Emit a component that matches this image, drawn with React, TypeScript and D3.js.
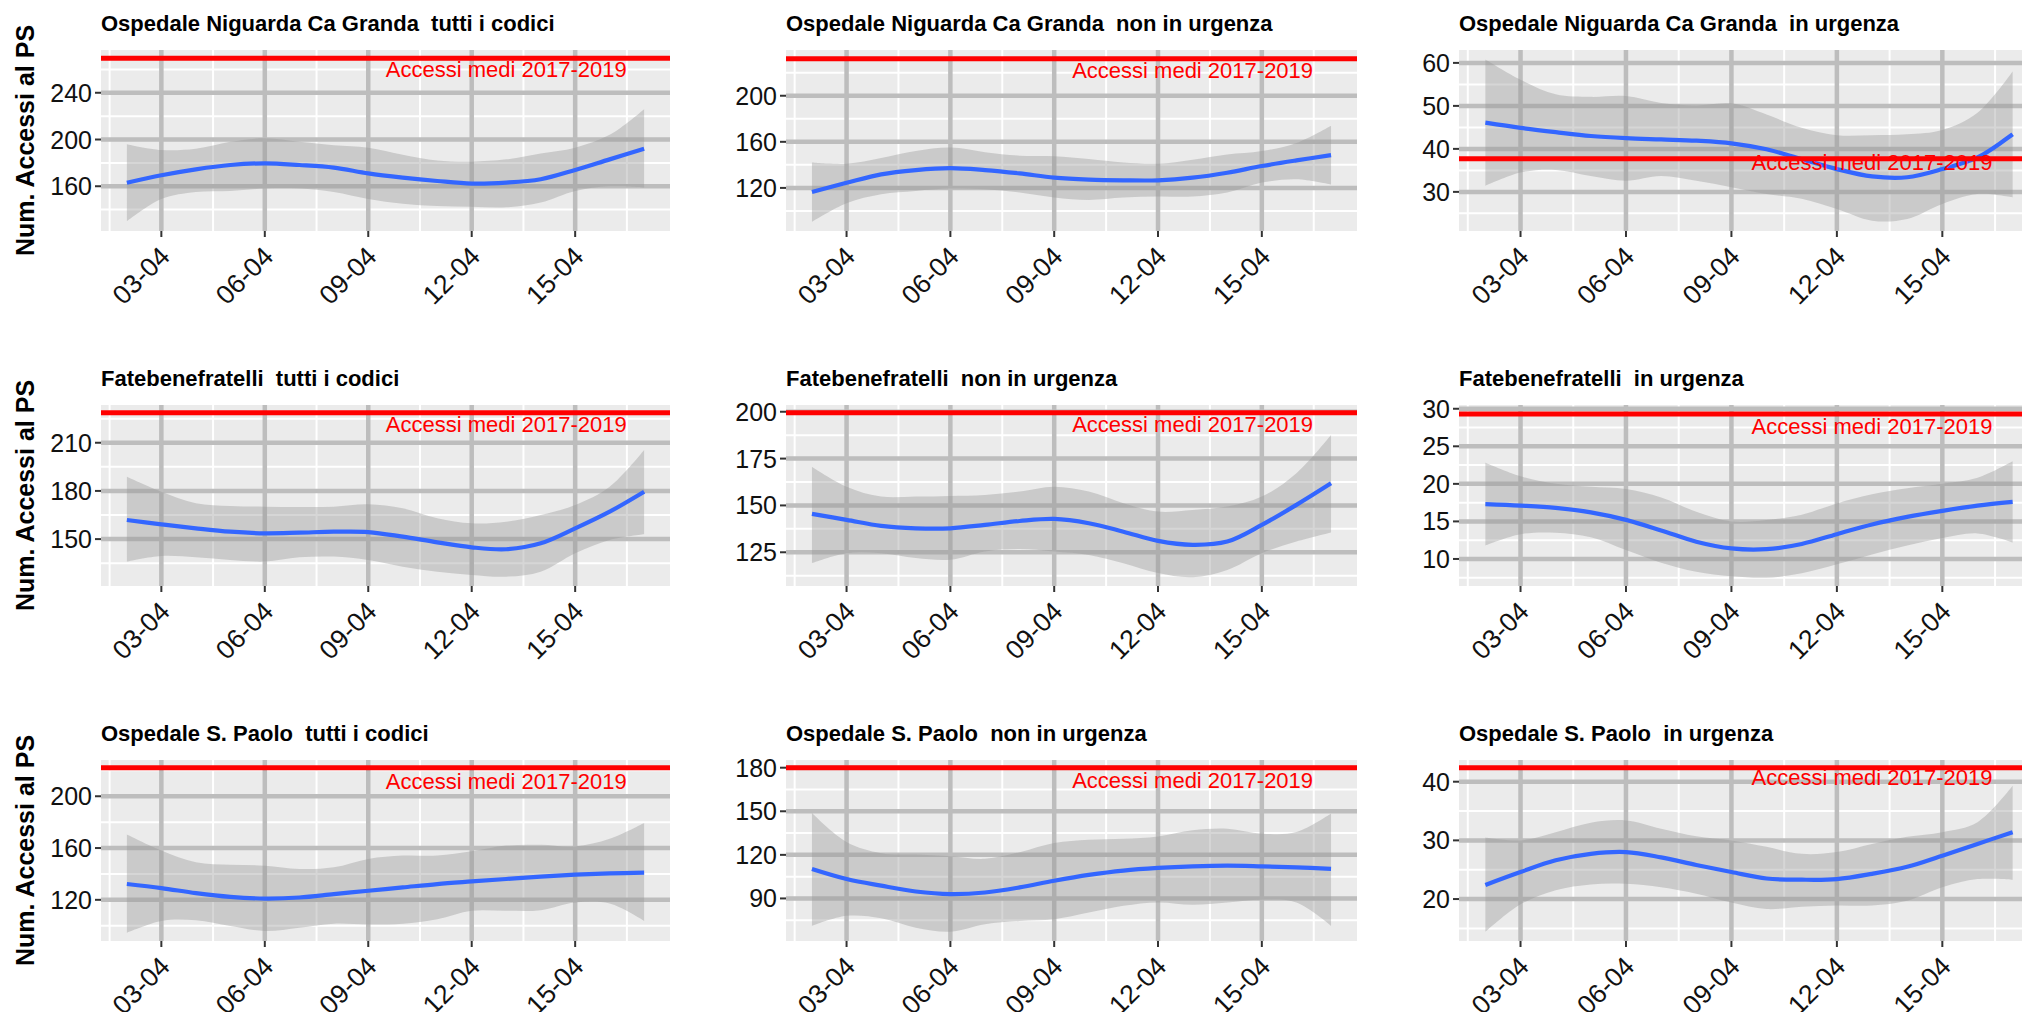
import React from "react";
import * as d3 from "d3";

// ---------- DATA ----------
const dayLabels = ["02-04","03-04","04-04","05-04","06-04","07-04","08-04","09-04","10-04","11-04","12-04","13-04","14-04","15-04","16-04","17-04"];
const xTickLabels = ["03-04","06-04","09-04","12-04","15-04"];
const refLabelDay = "13-04";
const refLabelText = "Accessi medi 2017-2019";
const yAxisTitle = "Num. Accessi al PS";

const titles = [
  "Ospedale Niguarda Ca Granda  tutti i codici",
  "Ospedale Niguarda Ca Granda  non in urgenza",
  "Ospedale Niguarda Ca Granda  in urgenza",
  "Fatebenefratelli  tutti i codici",
  "Fatebenefratelli  non in urgenza",
  "Fatebenefratelli  in urgenza",
  "Ospedale S. Paolo  tutti i codici",
  "Ospedale S. Paolo  non in urgenza",
  "Ospedale S. Paolo  in urgenza",
];

// Niguarda - tutti i codici
const niguardaTuttiFit = [163,169.4,174.5,178.2,179.6,178.2,176,171,167.4,164.5,162.3,163.1,166,173.9,183,192];
const niguardaTuttiLow = [130,149,155,156,158,158,155,149,145,143,142.5,142,146,156,160,159];
const niguardaTuttiHigh = [196,191,192,198,201,198,195,193,187,182,181,183,188,193,204,226];
// Niguarda - non in urgenza
const niguardaNonFit = [116.5,124.4,131.8,135.5,137.2,135.5,132.6,128.9,127.2,126.6,126.6,128.9,133.2,139,143.9,148.4];
const niguardaNonLow = [90.6,106.7,114.5,117.4,119.4,118.8,116,111.7,109.6,111.7,112.5,112.5,116,124.6,127.5,123];
const niguardaNonHigh = [142,141,146,152,155,151,148,147.5,145,142,141,144.5,149,152,159,174];
// Niguarda - in urgenza
const niguardaUrgFit = [46.1,44.9,43.9,43,42.5,42.2,41.9,41.3,39.9,37.6,35.3,33.6,33.4,35.3,38,43.4];
const niguardaUrgLow = [31.4,34.5,35.1,33.7,32.6,33.7,32.6,31.1,29.5,28.4,26,23.3,23.7,27.2,29.5,28.7];
const niguardaUrgHigh = [60.8,56.1,52.7,52.1,52.3,50.7,50.1,50.6,48,44.9,43.2,43.2,43.4,44.4,48.4,58];
// Fatebenefratelli - tutti i codici
const fateTuttiFit = [161.9,159.2,156.7,154.6,153.6,154,154.6,154.4,151.5,148,144.9,143.7,147.4,156.7,167.1,179.5];
const fateTuttiLow = [136,139.5,138.7,137,136,138.7,139.1,137,132.8,129.7,127.7,126.6,129.7,141.2,149.5,153];
const fateTuttiHigh = [188.8,179.5,172.3,170.6,170.2,170,170.2,171.7,169.2,163,159.8,160.8,165,171.2,182.6,205.5];
// Fatebenefratelli - non in urgenza
const fateNonFit = [145.5,142.3,139.1,137.8,137.8,139.6,141.7,142.8,140.5,136,131.1,129,130.7,139.6,150.3,161.8];
const fateNonLow = [119.2,124.5,124.5,121.9,121,125.4,126.7,125.4,123.6,119.2,113.9,111.7,115.6,124.5,130.7,135.5];
const fateNonHigh = [170.7,160,154.7,154.7,155.1,155.6,157.4,160,157.4,151.2,146.7,147.6,149.4,154.7,167.2,187.6];
// Fatebenefratelli - in urgenza
const fateUrgFit = [17.3,17.1,16.8,16.2,15.2,13.8,12.3,11.4,11.3,12,13.3,14.6,15.6,16.4,17.1,17.6];
const fateUrgLow = [11.8,13.3,13.5,12.9,11.2,9.5,8.3,7.7,7.5,8.1,9.3,10.6,11.8,12.8,13.4,12.2];
const fateUrgHigh = [22.8,21,20,19.6,19.3,18.2,16.3,15,15.2,15.9,17.4,18.6,19.4,20,20.8,23];
// S. Paolo - tutti i codici
const paoloTuttiFit = [132.2,129.1,125.2,122.3,121,121.8,124.4,127,129.6,132.2,134.2,136.1,137.9,139.4,140.4,141];
const paoloTuttiLow = [94.6,103.7,104.2,99.8,95.9,98.5,101.6,101,101.6,105,111.5,111.5,112,117.9,117.1,103.7];
const paoloTuttiHigh = [170.5,158.1,149,147,146.4,143.8,145.1,151.6,154.2,154.2,157.5,161.9,162.5,161.2,167.1,179.3];
// S. Paolo - non in urgenza
const paoloNonFit = [110.3,103.4,98.8,94.8,93,94.1,97.6,102.2,106.2,109.2,111,112.1,112.6,112.1,111.4,110.3];
const paoloNonLow = [71.1,78,76.4,69.9,67.1,72.2,74.5,75.7,80.3,84.9,87.2,85.6,87.2,89.1,87.2,71.1];
const paoloNonHigh = [148.8,128.8,121.1,120.2,119.1,117.3,121.8,128.1,130.4,131.1,132.7,136.9,138,134.6,135.7,148.4];
// S. Paolo - in urgenza
const paoloUrgFit = [22.4,24.6,26.6,27.7,28,27.1,25.8,24.6,23.5,23.3,23.4,24.3,25.5,27.4,29.4,31.4];
const paoloUrgLow = [14.4,19.1,21.5,22.5,22.6,22,20.9,19.4,18.3,18.7,18.9,18.9,19.7,22,23.4,23.3];
const paoloUrgHigh = [30.5,30,31.4,33,33.4,32,30.7,30,28.9,27.7,28,29.4,30.6,31.4,33.1,39.3];

const fits = [niguardaTuttiFit, niguardaNonFit, niguardaUrgFit, fateTuttiFit, fateNonFit, fateUrgFit, paoloTuttiFit, paoloNonFit, paoloUrgFit];
const lows = [niguardaTuttiLow, niguardaNonLow, niguardaUrgLow, fateTuttiLow, fateNonLow, fateUrgLow, paoloTuttiLow, paoloNonLow, paoloUrgLow];
const highs = [niguardaTuttiHigh, niguardaNonHigh, niguardaUrgHigh, fateTuttiHigh, fateNonHigh, fateUrgHigh, paoloTuttiHigh, paoloNonHigh, paoloUrgHigh];

const refMeans = [269.5, 232, 37.7, 228.7, 199.5, 29.3, 222, 180, 42.4];
const refLabelY = [259.6, 222.2, 36.76, 221.3, 193.3, 27.7, 211.5, 171, 40.67];
const yDomains = [[121.7,276.6],[82.6,239.7],[20.9,63],[120.8,233.5],[107,203.6],[6.4,30.5],[88.2,228],[60.7,185.3],[12.85,43.7]];
const yTicks = [[160,200,240],[120,160,200],[30,40,50,60],[150,180,210],[125,150,175,200],[10,15,20,25,30],[120,160,200],[90,120,150,180],[20,30,40]];

// ---------- LAYOUT ----------
const W = 2022, H = 1012;
const colX = [[101, 670], [786, 1357], [1459, 2039]];
const rowTop = [50, 405, 760];
const panelH = 181;
const FONT = "'Liberation Sans', Arial, Helvetica, sans-serif";
const parseDay = d3.timeParse("%d-%m-%Y");
const toDate = (s: string) => parseDay(s + "-2020") as Date;
const DAY = 86400000;

function Panel({ i }: { i: number }) {
  const r = Math.floor(i / 3), c = i % 3;
  const [x0, x1] = colX[c];
  const y0 = rowTop[r], y1 = y0 + panelH;
  const dates = dayLabels.map(toDate);
  const ext = d3.extent(dates) as [Date, Date];
  const span = +ext[1] - +ext[0];
  const x = d3.scaleTime().domain([new Date(+ext[0] - span * 0.05), new Date(+ext[1] + span * 0.05)]).range([x0, x1]);
  const y = d3.scaleLinear().domain(yDomains[i]).range([y1, y0]);
  const ticks = yTicks[i];
  const step = ticks[1] - ticks[0];
  const dom = yDomains[i];
  const minorY: number[] = [];
  for (let v = ticks[0] - step / 2; v <= dom[1]; v += step) if (v >= dom[0]) minorY.push(v);
  const xMajor = xTickLabels.map(toDate);
  const xMinor: Date[] = [];
  for (let t = +xMajor[0] - 1.5 * DAY; t <= +x.domain()[1]; t += 3 * DAY) if (t >= +x.domain()[0]) xMinor.push(new Date(t));

  const rows = dates.map((d, k) => ({ d, fit: fits[i][k], lo: lows[i][k], hi: highs[i][k] }));
  const area = d3.area<any>().x(p => x(p.d)).y0(p => y(p.lo)).y1(p => y(p.hi)).curve(d3.curveCatmullRom.alpha(0.5));
  const line = d3.line<any>().x(p => x(p.d)).y(p => y(p.fit)).curve(d3.curveCatmullRom.alpha(0.5));
  const clipId = `clip${i}`;

  return (
    <g>
      <defs>
        <clipPath id={clipId}><rect x={x0} y={y0} width={x1 - x0} height={panelH} /></clipPath>
      </defs>
      <text x={x0} y={y0 - 19} xmlSpace="preserve" style={{ whiteSpace: "pre" }} fontFamily={FONT} fontWeight="bold" fontSize={22} fill="#000">{titles[i]}</text>
      <rect x={x0} y={y0} width={x1 - x0} height={panelH} fill="#EBEBEB" />
      <g clipPath={`url(#${clipId})`}>
        {minorY.map((v, k) => <line key={"my" + k} x1={x0} x2={x1} y1={y(v)} y2={y(v)} stroke="#FFFFFF" strokeWidth={2} />)}
        {xMinor.map((d, k) => <line key={"mx" + k} x1={x(d)} x2={x(d)} y1={y0} y2={y1} stroke="#FFFFFF" strokeWidth={2} />)}
        {ticks.map((v, k) => <line key={"gy" + k} x1={x0} x2={x1} y1={y(v)} y2={y(v)} stroke="#BDBDBD" strokeWidth={4.5} />)}
        {xMajor.map((d, k) => <line key={"gx" + k} x1={x(d)} x2={x(d)} y1={y0} y2={y1} stroke="#BDBDBD" strokeWidth={4.5} />)}
        <path d={area(rows) || ""} fill="#999999" fillOpacity={0.4} />
        <path d={line(rows) || ""} fill="none" stroke="#3366FF" strokeWidth={4.2} />
        <line x1={x0} x2={x1} y1={y(refMeans[i])} y2={y(refMeans[i])} stroke="#FF0000" strokeWidth={5} />
        <text x={x(toDate(refLabelDay))} y={y(refLabelY[i])} textAnchor="middle" dominantBaseline="central" fontFamily={FONT} fontSize={22} fill="#FF0000">{refLabelText}</text>
      </g>
      {ticks.map((v, k) => (
        <g key={"ty" + k}>
          <line x1={x0 - 6} x2={x0} y1={y(v)} y2={y(v)} stroke="#333333" strokeWidth={2} />
          <text x={x0 - 9} y={y(v)} textAnchor="end" dominantBaseline="central" fontFamily={FONT} fontSize={25} fill="#111111">{v}</text>
        </g>
      ))}
      {xMajor.map((d, k) => (
        <g key={"tx" + k}>
          <line x1={x(d)} x2={x(d)} y1={y1} y2={y1 + 6} stroke="#333333" strokeWidth={2} />
          <text transform={`translate(${x(d) + 10},${y1 + 27}) rotate(-45)`} textAnchor="end" fontFamily={FONT} fontSize={26.5} fill="#111111">{xTickLabels[k]}</text>
        </g>
      ))}
      {c === 0 && (
        <text transform={`translate(25,${(y0 + y1) / 2}) rotate(-90)`} textAnchor="middle" dominantBaseline="central" fontFamily={FONT} fontWeight="bold" fontSize={25} fill="#000">{yAxisTitle}</text>
      )}
    </g>
  );
}

export default function App() {
  return (
    <svg width={W} height={H} style={{ position: "absolute", left: 0, top: 0, background: "#FFFFFF" }}>
      <rect x={0} y={0} width={W} height={H} fill="#FFFFFF" />
      {d3.range(9).map(i => <Panel key={i} i={i} />)}
    </svg>
  );
}
